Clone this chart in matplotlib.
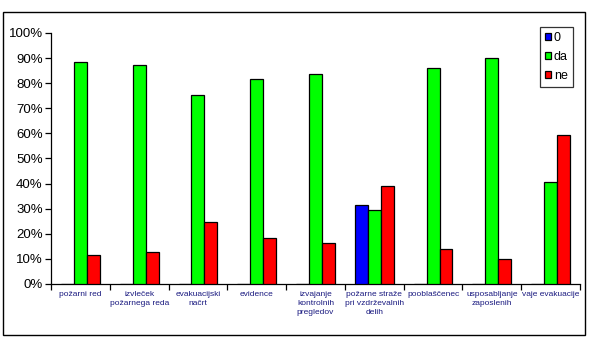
import matplotlib
matplotlib.use("Agg")
import matplotlib.pyplot as plt
from matplotlib.patches import Rectangle
import numpy as np

categories = ["požarni red", "izvleček\npožarnega reda", "evakuacijski\nnačrt", "evidence",
              "izvajanje\nkontrolnih\npregledov", "požarne straže\npri vzdrževalnih\ndelih",
              "pooblaščenec", "usposabljanje\nzaposlenih", "vaje evakuacije"]
series_names = ["0", "da", "ne"]
vals_0 = [0, 0, 0, 0, 0, 31.4, 0, 0, 0]
vals_da = [88.5, 87.3, 75.3, 81.6, 83.7, 29.4, 86.0, 90.0, 40.8]
vals_ne = [11.5, 12.7, 24.7, 18.4, 16.3, 39.2, 14.0, 10.0, 59.2]
yticks = [0, 10, 20, 30, 40, 50, 60, 70, 80, 90, 100]
ytick_labels = [f"{v}%" for v in yticks]

colors = ["#0000FF", "#00FF00", "#FF0000"]

plt.rcParams['font.family'] = ['Liberation Sans', 'DejaVu Sans']
fig = plt.figure(figsize=(5.9, 3.43), dpi=100)
W, H = 590, 343
ax = fig.add_axes([51 / W, 1 - 284 / H, (580 - 51) / W, (284 - 33) / H])

x = np.arange(len(categories))
bw = 0.22
for i, (vals, c, name) in enumerate(zip([vals_0, vals_da, vals_ne], colors, series_names)):
    ax.bar(x + (i - 1) * bw, vals, width=bw, color=c, edgecolor="black", linewidth=0.9,
           label=name, zorder=3)

ax.set_xlim(-0.5, len(categories) - 0.5)
ax.set_ylim(0, 100)
ax.set_yticks(yticks)
ax.set_yticklabels(ytick_labels, fontsize=9.5)
ax.tick_params(axis='y', direction='out', length=4, width=0.9, pad=2)

ax.set_xticks(np.arange(len(categories) + 1) - 0.5)
ax.set_xticklabels([])
ax.tick_params(axis='x', which='major', direction='out', length=4, width=0.9)
ax.set_xticks(x, minor=True)
ax.set_xticklabels(categories, minor=True, fontsize=6.0, color="#1a1a80", linespacing=1.45, va="top")
ax.tick_params(axis='x', which='minor', length=0, pad=5)

for s in ["top", "right"]:
    ax.spines[s].set_visible(False)
for s in ["left", "bottom"]:
    ax.spines[s].set_linewidth(0.9)

handles, labels = ax.get_legend_handles_labels()
leg = fig.legend(handles, labels, loc="upper right", bbox_to_anchor=(573 / W, 1 - 27 / H),
                 fontsize=9, frameon=True, fancybox=False, edgecolor="black",
                 handlelength=0.5, handleheight=0.5, handletextpad=0.25,
                 labelspacing=0.55, borderpad=0.4, borderaxespad=0)
leg.get_frame().set_linewidth(0.9)

fig.patches.append(Rectangle((3 / W, 1 - 335 / H), 582 / W, 323 / H, transform=fig.transFigure,
                             fill=False, edgecolor="black", linewidth=1.0))

fig.savefig("out.png", dpi=100)
